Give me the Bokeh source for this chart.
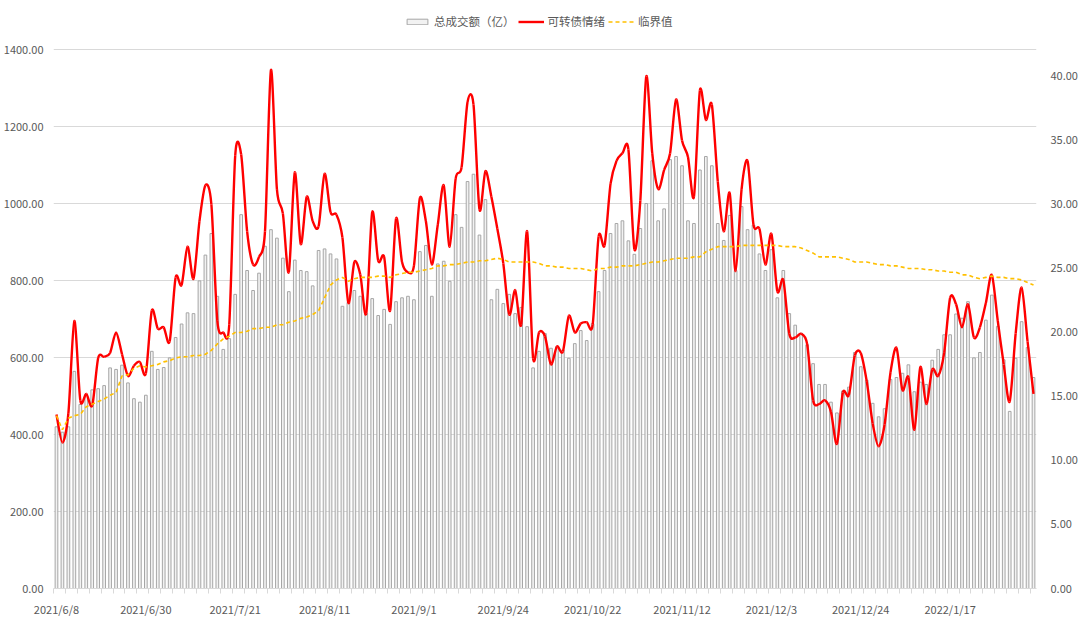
import numpy as np
import pandas as pd
from bokeh.plotting import figure
from bokeh.models import (Range1d, LinearAxis, FixedTicker, Legend, LegendItem,
                          ColumnDataSource, NumeralTickFormatter)
from bokeh.embed import file_html
from bokeh.resources import INLINE

# ---------------- data ----------------
# trading calendar (A-share holidays inside the period)
holidays = ["2021-06-14", "2021-09-20", "2021-09-21", "2021-10-01", "2021-10-04",
            "2021-10-05", "2021-10-06", "2021-10-07", "2022-01-03", "2022-01-31",
            "2022-02-01", "2022-02-02", "2022-02-03", "2022-02-04"]

# 总成交额（亿）
volume = [420, 406, 420, 564, 478, 504, 516, 519, 527, 573, 569, 580, 534, 493, 484, 502,
          616, 569, 574, 599, 652, 687, 716, 714, 799, 866, 922,
          759, 621, 649, 764, 971, 826, 774, 819, 889, 932, 910, 858, 771, 853, 826, 823,
          786, 878, 882, 869, 856, 733, 743, 774, 759, 715, 753, 709,
          725, 686, 745, 755, 759, 750, 875, 891, 759, 843, 850, 798, 971, 938, 1057, 1076,
          918, 1010, 750, 777, 740, 764, 714, 730, 680, 573, 616,
          662, 624, 628, 619, 598, 636, 670, 644, 688, 771, 826, 922, 948, 955, 903, 868,
          935, 1000, 1111, 955, 986, 1114, 1122, 1098, 955, 948, 1087, 1122,
          1098, 948, 904, 969, 826, 992, 932, 944, 869, 826, 880, 755, 826, 714, 684, 663,
          633, 584, 530, 530, 484, 456, 513, 523, 613, 576, 541, 481,
          446, 467, 543, 548, 559, 581, 511, 536, 530, 593, 621, 659, 659, 713, 702, 745,
          599, 613, 697, 762, 681, 594, 460, 598, 693, 626, 548]

# 可转债情绪
sentiment = [13.6, 11.4, 13.7, 20.9, 14.7, 15.2, 14.3, 18.0, 18.1, 18.4, 20.0, 18.3, 16.6,
             17.4, 17.7, 16.8, 21.7, 20.3, 20.4, 19.3, 24.3, 23.7, 26.7, 24.2, 28.7, 31.5,
             30.0, 20.9, 20.0, 20.6, 33.8, 33.9, 27.9, 25.3, 25.9, 27.9, 40.5, 31.2, 29.3,
             24.7, 32.5, 26.9, 30.6, 28.7, 28.3, 32.4, 29.4, 29.2, 27.4, 22.3, 25.5, 24.5,
             21.5, 29.4, 25.6, 25.9, 21.7, 28.9, 25.5, 24.7, 25.2, 30.5, 28.7, 25.3, 28.4,
             31.5, 26.7, 32.0, 32.9, 38.0, 37.8, 29.6, 32.6, 30.6, 28.1, 25.4, 21.4, 23.3,
             20.6, 27.9, 18.0, 20.0, 19.7, 17.5, 18.9, 18.5, 21.3, 20.0, 20.7, 20.8, 20.6,
             27.5, 26.8, 31.6, 33.4, 34.0, 34.3, 26.5, 30.3, 40.0, 34.0, 31.2, 32.7, 34.0,
             38.2, 35.0, 33.7, 30.6, 38.9, 36.6, 37.8, 31.8, 27.9, 30.9, 24.8, 31.2, 33.4,
             28.4, 28.1, 25.3, 27.7, 23.2, 24.1, 19.9, 19.6, 19.9, 19.1, 14.7, 14.4, 14.7,
             13.8, 11.3, 15.3, 15.1, 18.2, 18.4, 16.2, 12.9, 11.1, 12.8, 16.9, 18.8, 15.5,
             16.5, 12.4, 17.3, 14.4, 17.1, 16.6, 18.4, 22.7, 22.2, 20.4, 22.2, 19.6, 20.4,
             22.3, 24.5, 20.9, 17.5, 14.6, 19.9, 23.5, 19.3, 15.2]

# 临界值
threshold = [13.5, 12.4, 13.3, 13.5, 13.6, 14.2, 14.4, 14.6, 14.8, 15.1, 15.3, 16.6, 16.7,
             17.2, 17.4, 17.3, 17.4, 17.5, 17.7, 17.8, 18.0, 18.1, 18.1, 18.2, 18.2, 18.3,
             18.6, 19.1, 19.5, 19.7, 20.0, 20.0, 20.1, 20.3, 20.3, 20.4, 20.4, 20.6, 20.6,
             20.8, 20.9, 21.1, 21.2, 21.4, 21.7, 22.7, 23.7, 24.1, 24.3, 24.0, 24.2, 24.3,
             24.3, 24.3, 24.4, 24.4, 24.3, 24.5, 24.6, 24.7, 24.7, 24.8, 24.9, 25.0, 25.2,
             25.2, 25.3, 25.3, 25.4, 25.5, 25.5, 25.6, 25.6, 25.7, 25.8, 25.7, 25.5, 25.5,
             25.5, 25.5, 25.5, 25.4, 25.2, 25.2, 25.1, 25.1, 25.0, 25.0, 25.0, 24.9, 24.8,
             25.0, 25.0, 25.1, 25.1, 25.2, 25.2, 25.2, 25.3, 25.4, 25.5, 25.5, 25.6, 25.7,
             25.8, 25.8, 25.8, 25.9, 25.9, 26.3, 26.5, 26.7, 26.7, 26.7, 26.7, 26.8, 26.8,
             26.8, 26.8, 26.8, 26.8, 26.8, 26.7, 26.7, 26.7, 26.6, 26.4, 26.2, 25.9, 25.9,
             25.9, 25.9, 25.8, 25.7, 25.5, 25.5, 25.5, 25.4, 25.3, 25.3, 25.2, 25.2, 25.1,
             25.0, 25.0, 25.0, 24.9, 24.9, 24.8, 24.8, 24.7, 24.7, 24.5, 24.5, 24.3, 24.2,
             24.3, 24.4, 24.3, 24.3, 24.2, 24.2, 24.1, 23.9, 23.7]

series_names = ["总成交额（亿）", "可转债情绪", "临界值"]
left_ticks = [0, 200, 400, 600, 800, 1000, 1200, 1400]
right_ticks = [0, 5, 10, 15, 20, 25, 30, 35, 40]
left_max, right_max = 1400, 42.1
label_every = 15

# ---------------- build ----------------
n = len(volume)
dates = pd.bdate_range("2021-06-08", periods=n, freq="C", holidays=holidays)
date_labels = [f"{d.year}/{d.month}/{d.day}" for d in dates]
x = np.arange(n)

FONT = "Noto Sans CJK SC"
TXT = "#595959"
GRID = "#d9d9d9"
BAR_FILL, BAR_LINE = "#f2f2f2", "#a6a6a6"
RED, YEL = "#ff0000", "#ffc000"

W, H = 1080, 622
FRAME_BOTTOM = 588          # canvas y of the value 0
FRAME_TOP_VALUE = 49        # canvas y of the top gridline
# the frame reaches the top of the canvas so that the legend fits inside it
extend = FRAME_BOTTOM / (FRAME_BOTTOM - FRAME_TOP_VALUE)

p = figure(width=W, height=H, output_backend="svg", toolbar_location=None,
           x_range=Range1d(-0.5, n - 0.5), y_range=Range1d(0, left_max * extend),
           min_border_left=48, min_border_right=40, min_border_top=0,
           min_border_bottom=H - FRAME_BOTTOM, outline_line_color=None,
           background_fill_color="white", border_fill_color="white")
p.extra_y_ranges = {"right": Range1d(0, right_max * extend)}

src = ColumnDataSource(dict(x=x, volume=volume, sentiment=sentiment, threshold=threshold))

bars = p.vbar(x="x", top="volume", width=0.45, source=src,
              fill_color=BAR_FILL, line_color=BAR_LINE, line_width=1)

# smoothed sentiment line (cardinal spline -> cubic bezier through each data point)
TENSION = 7.0
xs = x.astype(float)
ys = np.array(sentiment, dtype=float)
xp = np.concatenate([[xs[0]], xs, [xs[-1]]])
yp = np.concatenate([[ys[0]], ys, [ys[-1]]])
bz = dict(
    x0=xs[:-1], y0=ys[:-1], x1=xs[1:], y1=ys[1:],
    cx0=xp[1:-2] + (xp[2:-1] - xp[:-3]) / TENSION,
    cy0=yp[1:-2] + (yp[2:-1] - yp[:-3]) / TENSION,
    cx1=xp[2:-1] - (xp[3:] - xp[1:-2]) / TENSION,
    cy1=yp[2:-1] - (yp[3:] - yp[1:-2]) / TENSION,
)
red = p.bezier(x0="x0", y0="y0", x1="x1", y1="y1", cx0="cx0", cy0="cy0",
               cx1="cx1", cy1="cy1", source=ColumnDataSource(bz),
               line_color=RED, line_width=2.4, y_range_name="right")

yel = p.line(x="x", y="threshold", source=src, line_color=YEL, line_width=1.6,
             line_dash="4 3", y_range_name="right")

# left axis
p.yaxis.ticker = FixedTicker(ticks=left_ticks)
p.yaxis.formatter = NumeralTickFormatter(format="0.00")
for ax in p.yaxis:
    ax.axis_line_color = None
    ax.major_tick_line_color = None
    ax.minor_tick_line_color = None
    ax.major_label_text_font = FONT
    ax.major_label_text_font_size = "11px"
    ax.major_label_text_color = TXT
    ax.major_label_standoff = 4
p.ygrid.grid_line_color = GRID
p.ygrid.grid_line_width = 1
p.xgrid.grid_line_color = None

# right axis
rax = LinearAxis(y_range_name="right", ticker=FixedTicker(ticks=right_ticks),
                 formatter=NumeralTickFormatter(format="0.00"))
rax.axis_line_color = None
rax.major_tick_line_color = None
rax.minor_tick_line_color = None
rax.major_label_text_font = FONT
rax.major_label_text_font_size = "11px"
rax.major_label_text_color = TXT
rax.major_label_standoff = 8
p.add_layout(rax, "right")

# x axis
major = list(range(0, n, label_every))
p.xaxis.ticker = FixedTicker(ticks=major, minor_ticks=list(np.arange(-0.5, n, 2.0)))
p.xaxis.major_label_overrides = {i: date_labels[i] for i in major}
for ax in p.xaxis:
    ax.axis_line_color = GRID
    ax.major_tick_line_color = None
    ax.minor_tick_line_color = GRID
    ax.minor_tick_out = 5
    ax.minor_tick_in = 0
    ax.major_label_text_font = FONT
    ax.major_label_text_font_size = "11px"
    ax.major_label_text_color = TXT
    ax.major_label_standoff = 6

legend = Legend(items=[LegendItem(label=series_names[0], renderers=[bars]),
                       LegendItem(label=series_names[1], renderers=[red]),
                       LegendItem(label=series_names[2], renderers=[yel])],
                orientation="horizontal", location=(351, FRAME_BOTTOM - 29),
                glyph_width=26, glyph_height=7, label_height=14, label_standoff=4,
                spacing=3, padding=2, margin=0,
                label_text_font=FONT, label_text_font_size="11.5px",
                label_text_color=TXT, background_fill_alpha=0,
                border_line_color=None)
p.add_layout(legend, "center")

open("out.html", "w").write(file_html(p, INLINE))
